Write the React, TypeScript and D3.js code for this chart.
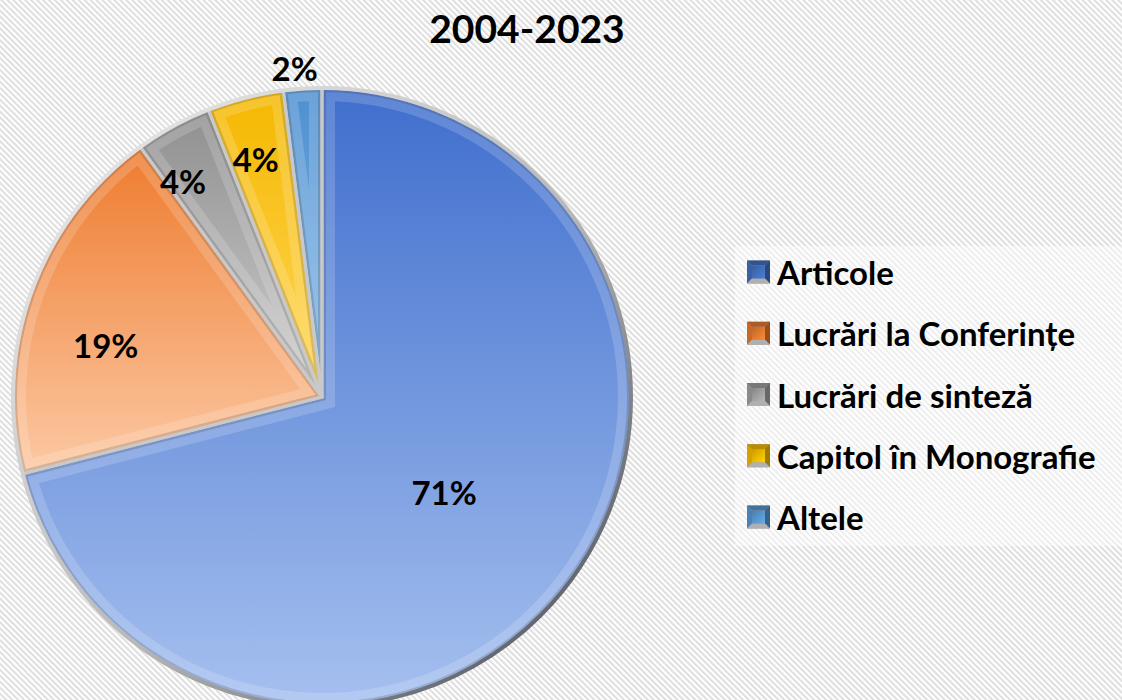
import React, { useEffect, useRef } from "react";
import * as d3 from "d3";

// Data
const categories = ["Articole", "Lucrări la Conferințe", "Lucrări de sinteză", "Capitol în Monografie", "Altele"];
const values = [71, 19, 4, 4, 2];
const colorsTop = ["#3f6ecd", "#ee7b2e", "#8f8f8f", "#f5b800", "#4d8fd0"];
const colorsBottom = ["#a6c0ef", "#fcc9a4", "#cfcfcf", "#ffd75a", "#8dbde8"];
const legendColors = ["#4472c4", "#ed7d31", "#a5a5a5", "#ffc000", "#5b9bd5"];
const labelRadius = [0.5, 0.72, 0.83, 0.8, 1.07];
const labelAngleShift = [0, -0.11, -0.07, -0.02, -0.02];
const title = "2004-2023";

const W = 1122;
const H = 700;

const PieChart = () => {
  const ref = useRef<SVGSVGElement | null>(null);

  useEffect(() => {
    drawGraph();
  }, []);

  const drawGraph = () => {
    const svg = d3.select(ref.current);
    svg.selectAll("*").remove();

    const cx = 322, cy = 397, r = 309;
    const font = "Lato, 'Open Sans', sans-serif";

    const defs = svg.append("defs");

    // hatched background
    const pat = defs.append("pattern")
      .attr("id", "hatch")
      .attr("patternUnits", "userSpaceOnUse")
      .attr("width", 4.2)
      .attr("height", 4.2)
      .attr("patternTransform", "rotate(-45)");
    pat.append("rect").attr("width", 4.2).attr("height", 4.2).attr("fill", "#ffffff");
    pat.append("rect").attr("width", 2).attr("height", 4.2).attr("fill", "#dedede");

    svg.append("rect").attr("width", W).attr("height", H).attr("fill", "url(#hatch)");

    // slice gradients
    values.forEach((_, i) => {
      const g = defs.append("linearGradient")
        .attr("id", `grad${i}`)
        .attr("x1", 0).attr("y1", 0).attr("x2", 0).attr("y2", 1);
      g.append("stop").attr("offset", "0%").attr("stop-color", colorsTop[i]);
      g.append("stop").attr("offset", "100%").attr("stop-color", colorsBottom[i]);

      const lg = defs.append("linearGradient")
        .attr("id", `lgrad${i}`)
        .attr("x1", 0).attr("y1", 0).attr("x2", 1).attr("y2", 1);
      lg.append("stop").attr("offset", "0%").attr("stop-color", d3.color(legendColors[i])!.darker(0.6).toString());
      lg.append("stop").attr("offset", "100%").attr("stop-color", d3.color(legendColors[i])!.brighter(0.3).toString());
    });

    const rim = defs.append("linearGradient")
      .attr("id", "rim")
      .attr("x1", 0).attr("y1", 0).attr("x2", 1).attr("y2", 1);
    rim.append("stop").attr("offset", "0%").attr("stop-color", "#f0f0f0");
    rim.append("stop").attr("offset", "55%").attr("stop-color", "#b8b8b8");
    rim.append("stop").attr("offset", "100%").attr("stop-color", "#3a4150");

    const pie = d3.pie<number>().sort(null).value(d => d);
    const arcs = pie(values);
    const arc = d3.arc<d3.PieArcDatum<number>>().innerRadius(0).outerRadius(r);

    const g = svg.append("g").attr("transform", `translate(${cx},${cy})`);

    arcs.forEach((a, i) => {
      defs.append("clipPath").attr("id", `clip${i}`)
        .append("path").attr("d", arc(a)!);
    });

    // slices
    g.selectAll("path.slice")
      .data(arcs)
      .join("path")
      .attr("class", "slice")
      .attr("d", arc)
      .attr("fill", (_, i) => `url(#grad${i})`);

    // bevel bands inside each slice
    arcs.forEach((a, i) => {
      const c = g.append("g").attr("clip-path", `url(#clip${i})`);
      c.append("path")
        .attr("d", arc(a)!)
        .attr("fill", "none")
        .attr("stroke", "#ffffff")
        .attr("stroke-opacity", 0.17)
        .attr("stroke-width", 26)
        .attr("stroke-linejoin", "miter");
      c.append("path")
        .attr("d", arc(a)!)
        .attr("fill", "none")
        .attr("stroke", "#000000")
        .attr("stroke-opacity", 0.14)
        .attr("stroke-width", 8);
    });

    // slice separators
    g.selectAll("path.sep")
      .data(arcs)
      .join("path")
      .attr("class", "sep")
      .attr("d", arc)
      .attr("fill", "none")
      .attr("stroke", "#c9c9c9")
      .attr("stroke-width", 3)
      .attr("stroke-linejoin", "round");

    // outer rim
    g.append("circle")
      .attr("r", r)
      .attr("fill", "none")
      .attr("stroke", "url(#rim)")
      .attr("stroke-width", 4);

    // data labels
    arcs.forEach((a, i) => {
      const ang = (a.startAngle + a.endAngle) / 2 + labelAngleShift[i];
      const rr = r * labelRadius[i];
      g.append("text")
        .attr("x", rr * Math.sin(ang))
        .attr("y", -rr * Math.cos(ang))
        .attr("text-anchor", "middle")
        .attr("dominant-baseline", "central")
        .attr("font-family", font)
        .attr("font-weight", 700)
        .attr("font-size", 33)
        .attr("fill", "#000")
        .text(`${values[i]}%`);
    });

    // title
    svg.append("text")
      .attr("x", 527)
      .attr("y", 28)
      .attr("text-anchor", "middle")
      .attr("dominant-baseline", "central")
      .attr("font-family", font)
      .attr("font-weight", 700)
      .attr("font-size", 39)
      .attr("fill", "#000")
      .text(title);

    // legend
    svg.append("rect")
      .attr("x", 735).attr("y", 246)
      .attr("width", 387).attr("height", 300)
      .attr("fill", "#ffffff").attr("fill-opacity", 0.45);

    const y = d3.scalePoint<string>().domain(categories).range([272, 517]);
    const lg = svg.append("g");
    categories.forEach((c, i) => {
      const yy = y(c)!;
      const x0 = 747, s = 23, y0 = yy - s / 2, b = 5;
      const item = lg.append("g");
      item.append("rect").attr("x", x0).attr("y", y0).attr("width", s).attr("height", s)
        .attr("fill", "#9a9a9a");
      // bevel faces
      const col = d3.color(legendColors[i])!;
      item.append("polygon")
        .attr("points", `${x0},${y0} ${x0 + s},${y0} ${x0 + s - b},${y0 + b} ${x0 + b},${y0 + b}`)
        .attr("fill", col.darker(0.9).toString());
      item.append("polygon")
        .attr("points", `${x0},${y0} ${x0 + b},${y0 + b} ${x0 + b},${y0 + s - b} ${x0},${y0 + s}`)
        .attr("fill", col.darker(0.5).toString());
      item.append("polygon")
        .attr("points", `${x0 + s},${y0} ${x0 + s},${y0 + s} ${x0 + s - b},${y0 + s - b} ${x0 + s - b},${y0 + b}`)
        .attr("fill", col.darker(1.3).toString());
      item.append("polygon")
        .attr("points", `${x0},${y0 + s} ${x0 + s},${y0 + s} ${x0 + s - b},${y0 + s - b} ${x0 + b},${y0 + s - b}`)
        .attr("fill", "#b0b0b0");
      item.append("rect").attr("x", x0 + b).attr("y", y0 + b).attr("width", s - 2 * b).attr("height", s - 2 * b)
        .attr("fill", `url(#lgrad${i})`);
      item.append("text")
        .attr("x", 777)
        .attr("y", yy)
        .attr("dominant-baseline", "central")
        .attr("font-family", font)
        .attr("font-weight", 700)
        .attr("font-size", 33)
        .attr("fill", "#000")
        .text(c);
    });
  };

  return (
    <svg
      ref={ref}
      width={W}
      height={H}
      style={{ position: "absolute", left: 0, top: 0, display: "block" }}
    />
  );
};

export default function App() {
  return <PieChart />;
}
